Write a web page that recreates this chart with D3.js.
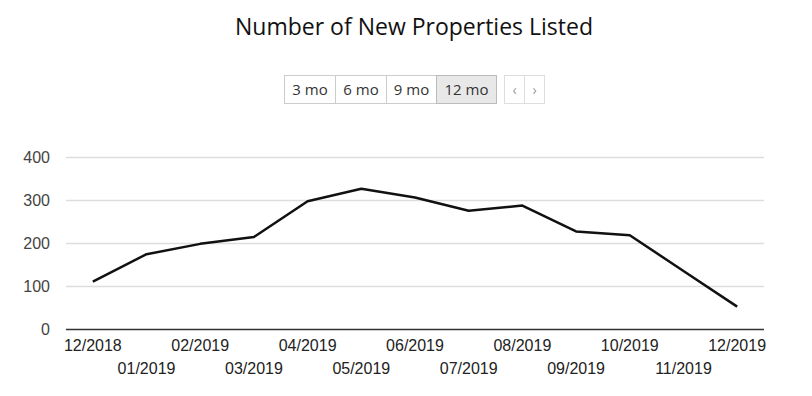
<!DOCTYPE html>
<html>
<head>
<meta charset="utf-8">
<script src="https://cdn.jsdelivr.net/npm/d3@7"></script>
<style>
  body { margin: 0; background: #fff; }
</style>
</head>
<body>
<div id="chart"></div>
<script>
// data
const months = ['12/2018','01/2019','02/2019','03/2019','04/2019','05/2019','06/2019',
                '07/2019','08/2019','09/2019','10/2019','11/2019','12/2019'];
const listed = [110, 174, 198, 214, 297, 326, 306, 275, 287, 227, 218, 135, 52];
const yTicks = [0, 100, 200, 300, 400];
const ranges = ['3 mo', '6 mo', '9 mo', '12 mo'];

const width = 812, height = 396;
const m = { left: 66, right: 48, top: 157, bottom: 67 };

const svg = d3.select('#chart').append('svg')
    .attr('width', width)
    .attr('height', height);

// title
svg.append('text')
    .attr('x', 414).attr('y', 35)
    .attr('text-anchor', 'middle')
    .style('font-family', '"Open Sans", sans-serif')
    .style('font-size', '23px')
    .attr('fill', '#111')
    .text('Number of New Properties Listed');

// range buttons
const btnG = svg.append('g').attr('transform', 'translate(284.5,75.5)');
const btnW = [51, 51, 50, 60];
let bx = 0;
ranges.forEach((r, i) => {
    btnG.append('rect')
        .attr('x', bx).attr('y', 0)
        .attr('width', btnW[i]).attr('height', 28)
        .attr('fill', i === 3 ? '#e8e8e8' : '#fff')
        .attr('stroke', i === 3 ? '#bbb' : '#ccc');
    btnG.append('text')
        .attr('x', bx + btnW[i] / 2).attr('y', 19.5)
        .attr('text-anchor', 'middle')
        .style('font-family', '"Open Sans", sans-serif')
        .style('font-size', '15px')
        .attr('fill', '#333')
        .text(r);
    bx += btnW[i];
});
const navG = svg.append('g').attr('transform', 'translate(504.5,75.5)');
['‹', '›'].forEach((s, i) => {
    navG.append('rect')
        .attr('x', i * 20).attr('y', 0)
        .attr('width', 20).attr('height', 28)
        .attr('fill', '#fff').attr('stroke', '#ddd');
    navG.append('text')
        .attr('x', i * 20 + 10).attr('y', 19)
        .attr('text-anchor', 'middle')
        .style('font-family', '"Open Sans", sans-serif')
        .style('font-size', '14px')
        .attr('fill', '#999')
        .text(s);
});

// scales
const x = d3.scalePoint()
    .domain(months)
    .range([m.left, width - m.right])
    .padding(0.5);

const y = d3.scaleLinear()
    .domain([0, 400])
    .range([height - m.bottom, m.top]);

// gridlines
svg.append('g')
    .selectAll('line')
    .data(yTicks.filter(d => d > 0))
    .join('line')
    .attr('x1', m.left).attr('x2', width - m.right)
    .attr('y1', d => Math.round(y(d)) + 0.5)
    .attr('y2', d => Math.round(y(d)) + 0.5)
    .attr('stroke', '#ddd')
    .attr('stroke-width', 1.5);

// y axis labels
svg.append('g')
    .selectAll('text')
    .data(yTicks)
    .join('text')
    .attr('x', 50)
    .attr('y', d => y(d) + 6)
    .attr('text-anchor', 'end')
    .style('font-family', '"Liberation Sans", Arial, sans-serif')
    .style('font-size', '16px')
    .attr('fill', '#444')
    .text(d => d);

// x axis baseline
svg.append('line')
    .attr('x1', m.left).attr('x2', width - m.right)
    .attr('y1', Math.round(y(0)) + 0.5).attr('y2', Math.round(y(0)) + 0.5)
    .attr('stroke', '#333')
    .attr('stroke-width', 1.5);

// x labels, staggered in two rows
svg.append('g')
    .selectAll('text')
    .data(months)
    .join('text')
    .attr('x', d => x(d))
    .attr('y', (d, i) => i % 2 === 0 ? 351 : 374)
    .attr('text-anchor', 'middle')
    .style('font-family', '"Liberation Sans", Arial, sans-serif')
    .style('font-size', '16px')
    .attr('fill', '#222')
    .text(d => d);

// the line
const line = d3.line()
    .x((d, i) => x(months[i]))
    .y(d => y(d));

svg.append('path')
    .datum(listed)
    .attr('d', line)
    .attr('fill', 'none')
    .attr('stroke', '#111')
    .attr('stroke-width', 2.5)
    .attr('stroke-linejoin', 'round');
</script>
</body>
</html>
